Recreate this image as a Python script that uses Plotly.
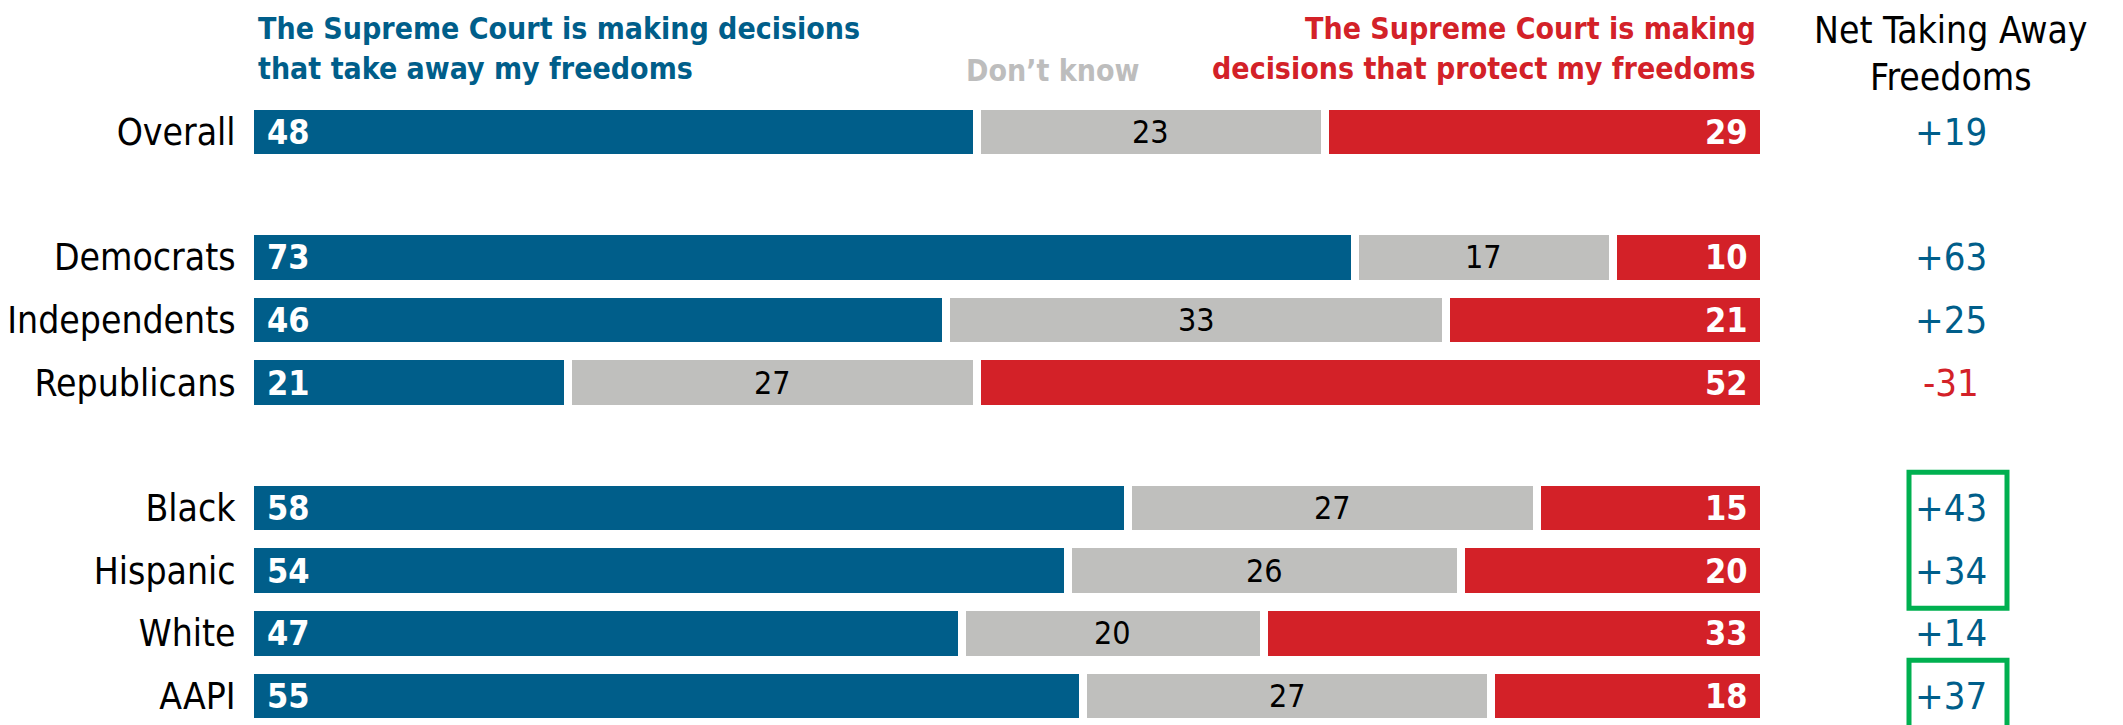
import plotly.graph_objects as go

# ---------------- data ----------------
groups = [["Overall"],
          ["Democrats", "Independents", "Republicans"],
          ["Black", "Hispanic", "White", "AAPI"]]
categories = [c for g in groups for c in g]
take_away = [48, 73, 46, 21, 58, 54, 47, 55]
dont_know = [23, 17, 33, 27, 27, 26, 20, 27]
protect = [29, 10, 21, 52, 15, 20, 33, 18]
highlight_groups = [["Black", "Hispanic"], ["AAPI"]]

header_take = ["The Supreme Court is making decisions", "that take away my freedoms"]
header_dk = "Don’t know"
header_protect = ["The Supreme Court is making", "decisions that protect my freedoms"]
header_net = ["Net Taking Away", "Freedoms"]

# ---------------- style ----------------
W, H = 2123, 725
L, R = 242, 367
BLUE = "#005E8A"
RED = "#D32128"
GRAY = "#BFBFBD"
GRAY_TXT = "#BDBDBD"
GREEN = "#00B050"
FONT = "'DejaVu Sans Condensed', 'Liberation Sans Narrow', 'Arial Narrow', sans-serif"

# slot positions (one empty slot between groups)
pos = []
slot = 0
for g in groups:
    for c in g:
        pos.append(slot)
        slot += 1
    slot += 1
pos_of = dict(zip(categories, pos))

slot_px = 62.67
first_px = 124
y_top = -first_px / slot_px
y_bot = y_top + H / slot_px


def px_x(px):
    return (px - L) / (W - L - R)


def px_y(py):
    return 1 - py / H


fig = go.Figure()
for vals, col in [(take_away, BLUE), (dont_know, GRAY), (protect, RED)]:
    fig.add_trace(go.Bar(
        y=pos, x=vals, orientation="h", width=0.84,
        marker=dict(color=col, line=dict(color="white", width=8)),
        hoverinfo="skip", showlegend=False,
    ))

NET_X = 1943
ann = []
for i, c in enumerate(categories):
    p = pos[i]
    ann.append(dict(x=0, y=p, xref="x", yref="y", text=str(take_away[i]),
                    xanchor="left", yanchor="middle", xshift=15, showarrow=False,
                    font=dict(family=FONT, size=34, color="white", weight="bold")))
    ann.append(dict(x=take_away[i] + dont_know[i] / 2, y=p, xref="x", yref="y",
                    text=str(dont_know[i]), xanchor="center", yanchor="middle",
                    showarrow=False,
                    font=dict(family=FONT, size=32, color="black")))
    total = take_away[i] + dont_know[i] + protect[i]
    ann.append(dict(x=total, y=p, xref="x", yref="y", text=str(protect[i]),
                    xanchor="right", yanchor="middle", xshift=-14, showarrow=False,
                    font=dict(family=FONT, size=34, color="white", weight="bold")))
    net = take_away[i] - protect[i]
    ann.append(dict(x=px_x(NET_X), y=p, xref="paper", yref="y",
                    text=f"{net:+d}", xanchor="center", yanchor="middle",
                    showarrow=False,
                    font=dict(family=FONT, size=38, color=BLUE if net > 0 else RED)))

# headers
for k, line in enumerate(header_take):
    ann.append(dict(x=px_x(248), y=px_y(20 + 41 * k), xref="paper", yref="paper",
                    text=line, xanchor="left", yanchor="middle", showarrow=False,
                    font=dict(family=FONT, size=30, color=BLUE, weight="bold")))
for k, line in enumerate(header_protect):
    ann.append(dict(x=px_x(1750), y=px_y(20 + 41 * k), xref="paper", yref="paper",
                    text=line, xanchor="right", yanchor="middle", showarrow=False,
                    font=dict(family=FONT, size=30, color=RED, weight="bold")))
ann.append(dict(x=px_x(1044), y=px_y(62), xref="paper", yref="paper",
                text=header_dk, xanchor="center", yanchor="middle", showarrow=False,
                font=dict(family=FONT, size=30, color=GRAY_TXT, weight="bold")))
for k, line in enumerate(header_net):
    ann.append(dict(x=px_x(NET_X), y=px_y(22 + 48 * k), xref="paper", yref="paper",
                    text=line, xanchor="center", yanchor="middle", showarrow=False,
                    font=dict(family=FONT, size=37, color="black")))

shapes = []
for hg in highlight_groups:
    ys = [pos_of[c] for c in hg]
    shapes.append(dict(type="rect", xref="paper", yref="y",
                       x0=px_x(1901), x1=px_x(1999),
                       y0=min(ys) - 0.57, y1=max(ys) + 0.6,
                       line=dict(color=GREEN, width=5), fillcolor="rgba(0,0,0,0)"))

fig.update_layout(
    width=W, height=H,
    margin=dict(l=L, r=R, t=0, b=0),
    barmode="stack", bargap=0,
    plot_bgcolor="white", paper_bgcolor="white",
    annotations=ann, shapes=shapes,
    xaxis=dict(range=[0, 100], visible=False, fixedrange=True),
    yaxis=dict(range=[y_bot, y_top], tickvals=pos, ticktext=categories,
               showgrid=False, zeroline=False, showline=False,
               ticks="outside", ticklen=6, tickcolor="rgba(0,0,0,0)",
               tickfont=dict(family=FONT, size=37, color="black")),
)

fig.write_html("out.html")
